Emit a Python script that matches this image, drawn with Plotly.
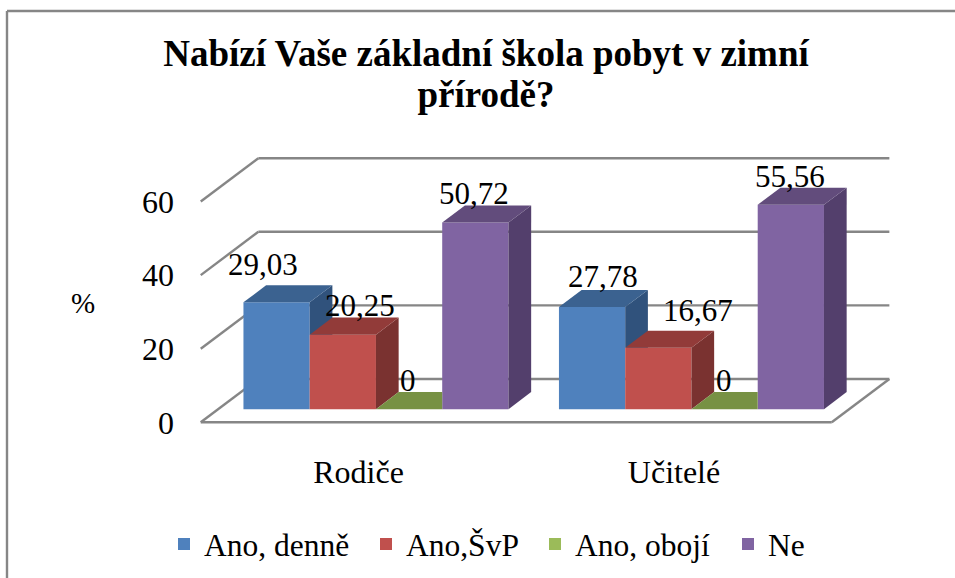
import plotly.graph_objects as go

# ---- data ----
CATEGORIES = ["Rodiče", "Učitelé"]
SERIES_NAMES = ["Ano, denně", "Ano,ŠvP", "Ano, obojí", "Ne"]
ANO_DENNE = [29.03, 27.78]
ANO_SVP = [20.25, 16.67]
ANO_OBOJI = [0, 0]
NE = [50.72, 55.56]
Y_TICKS = [0, 20, 40, 60]
TITLE = '<span style="font-size:37px">Nabízí Vaše základní škola pobyt v zimní<br>přírodě?</span>'

# ---- styling ----
SERIES = [ANO_DENNE, ANO_SVP, ANO_OBOJI, NE]
FRONT = ["#4F81BD", "#C0504D", "#9BBB59", "#8064A2"]
TOP = ["#3B6290", "#923B39", "#779144", "#624C7C"]
SIDE = ["#30527C", "#7A3230", "#63793A", "#533F6C"]
GRID = "#868686"
SERIF = "Liberation Serif"
LEGEND_LEFT_PX = [164, 366, 535, 728]
LEGEND_TOP_PX = 517

# oblique projection, in axis units
DEPTH_X = 0.1826      # floor depth along x
DEPTH_Y = 11.77       # floor depth along y
D0, D1 = 0.303, 0.697 # bar's depth span within the floor
BAR_W = 0.21
X_L, X_R = -0.5, 1.5


def proj(x, v, d):
    return x + d * DEPTH_X, v + d * DEPTH_Y


def wall_line(x0, v0, d0, x1, v1, d1):
    a, b = proj(x0, v0, d0), proj(x1, v1, d1)
    return dict(type="line", xref="x", yref="y", x0=a[0], y0=a[1], x1=b[0], y1=b[1],
                line=dict(color=GRID, width=2.4), layer="below")


shapes = []
for t in Y_TICKS:
    shapes.append(wall_line(X_L, t, 1, X_R, t, 1))
    shapes.append(wall_line(X_L, t, 0, X_L, t, 1))
shapes.append(wall_line(X_L, 0, 0, X_R, 0, 0))
shapes.append(wall_line(X_R, 0, 0, X_R, 0, 1))

# chart-area border (left and top only are visible in the picture)
PX_L, PX_W = 190, 710
PY_T, PY_H = 150, 300
bx = (7 - PX_L) / PX_W
by = 1 - (11 - PY_T) / PY_H
for x0, y0, x1, y1 in [(bx, by, bx, -1), (bx, by, 1.2, by)]:
    shapes.append(dict(type="line", xref="paper", yref="paper", x0=x0, y0=y0, x1=x1, y1=y1,
                       line=dict(color=GRID, width=2.4), layer="below"))

fig = go.Figure()
floor_base = D0 * DEPTH_Y
legend_ids = ["legend", "legend2", "legend3", "legend4"]

# front faces: real bars, from the data
for k, (name, vals) in enumerate(zip(SERIES_NAMES, SERIES)):
    fig.add_bar(x=list(range(len(CATEGORIES))), y=vals, name=name, base=floor_base,
                width=BAR_W, offset=(k - 2) * BAR_W + D0 * DEPTH_X, legend=legend_ids[k],
                marker=dict(color=FRONT[k], line=dict(width=0)), hoverinfo="name+y")


def polygon(pts, color):
    fig.add_trace(go.Scatter(x=[p[0] for p in pts] + [pts[0][0]], y=[p[1] for p in pts] + [pts[0][1]],
                             mode="lines", fill="toself", fillcolor=color, line=dict(width=0),
                             showlegend=False, hoverinfo="skip"))


# side and top faces: derived from the same values; parts hidden by the next bar are cut off
annotations = []
LABEL_SHIFT = [[(-14, 21), (11, 13)], [(17, 12), (40, 20)], [(-1, 12), (-1, 12)], [(-1, 12), (-1, 11)]]
for c in range(len(CATEGORIES)):
    for k, vals in enumerate(SERIES):
        v = vals[c]
        xl = c + (k - 2) * BAR_W
        xr = xl + BAR_W
        nxt = SERIES[k + 1][c] if k < 3 else None
        dd = (D1 - D0)
        if v > 0:
            low = 0 if nxt is None else nxt
            bottom_back = dd * DEPTH_Y
            if low > bottom_back:
                pts = [proj(xr, low, D0), proj(xr, v, D0), proj(xr, v, D1), proj(xr, low - dd * DEPTH_Y, D1)]
            else:
                pts = [proj(xr, low, D0), proj(xr, v, D0), proj(xr, v, D1), proj(xr, 0, D1)]
            polygon(pts, SIDE[k])
        hidden = nxt is not None and nxt > v
        if hidden:
            pts = [proj(xl, v, D0), proj(xl, v, D1),
                   (xr + D0 * DEPTH_X, v + D1 * DEPTH_Y), proj(xr, v, D0)]
        else:
            pts = [proj(xl, v, D0), proj(xl, v, D1), proj(xr, v, D1), proj(xr, v, D0)]
        polygon(pts, TOP[k])
        ax, ay = proj(xl + BAR_W / 2, v, D1)
        ax -= (D1 - D0) * DEPTH_X
        dx, dy = LABEL_SHIFT[k][c]
        txt = "0" if v == 0 else f"{v:.2f}".replace(".", ",")
        annotations.append(dict(x=ax, y=ay, xref="x", yref="y", text=txt, showarrow=False,
                                xshift=dx, yshift=dy, xanchor="center", yanchor="middle",
                                font=dict(family=SERIF, size=31, color="#000000")))

annotations.append(dict(text="%", showarrow=False, xref="paper", yref="y",
                        x=(83 - PX_L) / PX_W, y=32.5, xanchor="center", yanchor="middle",
                        font=dict(family=SERIF, size=29, color="#000000")))

legends = {
    lid: dict(orientation="h", xref="container", yref="container",
              x=LEGEND_LEFT_PX[k] / 955, xanchor="left",
              y=1 - LEGEND_TOP_PX / 578, yanchor="top",
              font=dict(family=SERIF, size=31.5, color="#000000"))
    for k, lid in enumerate(legend_ids)
}

fig.update_layout(
    width=955, height=578, autosize=False,
    margin=dict(l=PX_L, r=955 - PX_L - PX_W, t=PY_T, b=578 - PY_T - PY_H, pad=0),
    paper_bgcolor="#FFFFFF", plot_bgcolor="#FFFFFF",
    barmode="overlay",
    shapes=shapes, annotations=annotations,
    title=dict(text=TITLE, x=486 / 955, xanchor="center", xref="container",
               y=0.886, yanchor="middle",
               font=dict(family=SERIF, size=32, color="#000000", weight=700)),
    xaxis=dict(range=[(PX_L - 358.5) / 315.5, (PX_L + PX_W - 358.5) / 315.5],
               tickmode="array", tickvals=list(range(len(CATEGORIES))), ticktext=CATEGORIES,
               showgrid=False, zeroline=False, showline=False, ticks="",
               tickfont=dict(family=SERIF, size=32, color="#000000")),
    yaxis=dict(range=[(422.3 - (PY_T + PY_H)) / 3.68, (422.3 - PY_T) / 3.68],
               tickmode="array", tickvals=Y_TICKS,
               showgrid=False, zeroline=False, showline=False, ticks="", ticklabelstandoff=15,
               tickfont=dict(family=SERIF, size=32, color="#000000")),
    **legends,
)

fig.write_html("out.html", config={"displayModeBar": False},
               post_script="document.body.style.margin='0';")
